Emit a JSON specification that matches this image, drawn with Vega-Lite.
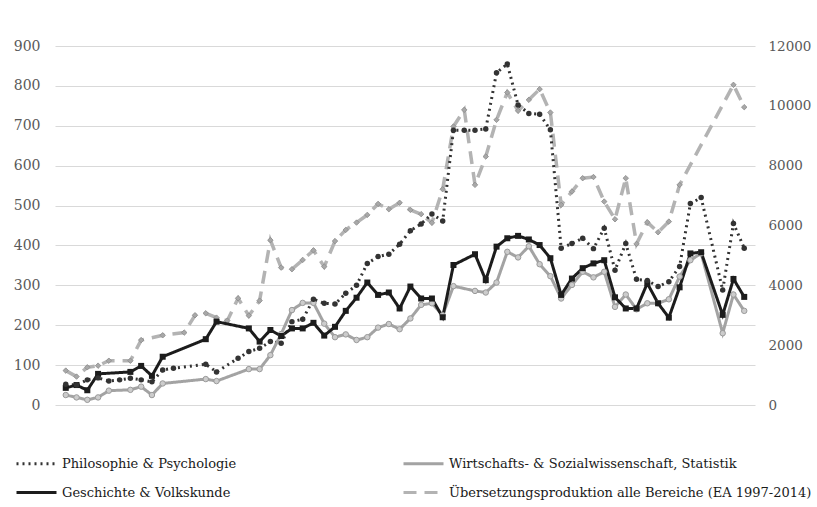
{
  "$schema": "https://vega.github.io/schema/vega-lite/v6.json",
  "width": 700,
  "height": 359,
  "autosize": {"type": "none"},
  "padding": {"left": 55, "top": 46, "right": 62, "bottom": 102},
  "background": "white",
  "config": {
    "view": {"stroke": null},
    "font": "DejaVu Serif",
    "axis": {"labelFont": "DejaVu Serif", "labelFontSize": 14, "labelColor": "#595959", "domain": false, "ticks": false, "title": null}
  },
  "data": {"values": [
    {"series":"P","year":1951,"value":52},{"series":"P","year":1952,"value":50},{"series":"P","year":1953,"value":63},{"series":"P","year":1954,"value":68},{"series":"P","year":1955,"value":60},{"series":"P","year":1956,"value":63},{"series":"P","year":1957,"value":67},{"series":"P","year":1958,"value":63},{"series":"P","year":1959,"value":58},{"series":"P","year":1960,"value":88},{"series":"P","year":1961,"value":92},{"series":"P","year":1964,"value":102},{"series":"P","year":1965,"value":83},{"series":"P","year":1967,"value":117},{"series":"P","year":1968,"value":134},{"series":"P","year":1969,"value":142},{"series":"P","year":1970,"value":159},{"series":"P","year":1971,"value":155},{"series":"P","year":1972,"value":209},{"series":"P","year":1973,"value":215},{"series":"P","year":1974,"value":265},{"series":"P","year":1975,"value":255},{"series":"P","year":1976,"value":253},{"series":"P","year":1977,"value":280},{"series":"P","year":1978,"value":300},{"series":"P","year":1979,"value":355},{"series":"P","year":1980,"value":372},{"series":"P","year":1981,"value":378},{"series":"P","year":1982,"value":403},{"series":"P","year":1983,"value":437},{"series":"P","year":1984,"value":454},{"series":"P","year":1985,"value":479},{"series":"P","year":1986,"value":461},{"series":"P","year":1987,"value":689},{"series":"P","year":1988,"value":689},{"series":"P","year":1989,"value":689},{"series":"P","year":1990,"value":692},{"series":"P","year":1991,"value":833},{"series":"P","year":1992,"value":855},{"series":"P","year":1993,"value":752},{"series":"P","year":1994,"value":731},{"series":"P","year":1995,"value":729},{"series":"P","year":1996,"value":690},{"series":"P","year":1997,"value":393},{"series":"P","year":1998,"value":405},{"series":"P","year":1999,"value":418},{"series":"P","year":2000,"value":392},{"series":"P","year":2001,"value":443},{"series":"P","year":2002,"value":338},{"series":"P","year":2003,"value":405},{"series":"P","year":2004,"value":315},{"series":"P","year":2005,"value":312},{"series":"P","year":2006,"value":297},{"series":"P","year":2007,"value":309},{"series":"P","year":2008,"value":347},{"series":"P","year":2009,"value":505},{"series":"P","year":2010,"value":520},{"series":"P","year":2012,"value":288},{"series":"P","year":2013,"value":455},{"series":"P","year":2014,"value":393},

    {"series":"W","year":1951,"value":25},{"series":"W","year":1952,"value":19},{"series":"W","year":1953,"value":13},{"series":"W","year":1954,"value":19},{"series":"W","year":1955,"value":36},{"series":"W","year":1957,"value":38},{"series":"W","year":1958,"value":46},{"series":"W","year":1959,"value":25},{"series":"W","year":1960,"value":54},{"series":"W","year":1964,"value":65},{"series":"W","year":1965,"value":60},{"series":"W","year":1968,"value":90},{"series":"W","year":1969,"value":90},{"series":"W","year":1970,"value":125},{"series":"W","year":1971,"value":178},{"series":"W","year":1972,"value":238},{"series":"W","year":1973,"value":256},{"series":"W","year":1974,"value":256},{"series":"W","year":1975,"value":204},{"series":"W","year":1976,"value":170},{"series":"W","year":1977,"value":177},{"series":"W","year":1978,"value":163},{"series":"W","year":1979,"value":170},{"series":"W","year":1980,"value":194},{"series":"W","year":1981,"value":203},{"series":"W","year":1982,"value":190},{"series":"W","year":1983,"value":217},{"series":"W","year":1984,"value":251},{"series":"W","year":1985,"value":255},{"series":"W","year":1986,"value":225},{"series":"W","year":1987,"value":298},{"series":"W","year":1989,"value":286},{"series":"W","year":1990,"value":282},{"series":"W","year":1991,"value":307},{"series":"W","year":1992,"value":384},{"series":"W","year":1993,"value":370},{"series":"W","year":1994,"value":398},{"series":"W","year":1995,"value":353},{"series":"W","year":1996,"value":323},{"series":"W","year":1997,"value":267},{"series":"W","year":1998,"value":301},{"series":"W","year":1999,"value":334},{"series":"W","year":2000,"value":320},{"series":"W","year":2001,"value":334},{"series":"W","year":2002,"value":246},{"series":"W","year":2003,"value":277},{"series":"W","year":2004,"value":240},{"series":"W","year":2005,"value":255},{"series":"W","year":2006,"value":255},{"series":"W","year":2007,"value":265},{"series":"W","year":2008,"value":322},{"series":"W","year":2009,"value":363},{"series":"W","year":2010,"value":380},{"series":"W","year":2012,"value":180},{"series":"W","year":2013,"value":277},{"series":"W","year":2014,"value":236},

    {"series":"G","year":1951,"value":43},{"series":"G","year":1952,"value":50},{"series":"G","year":1953,"value":37},{"series":"G","year":1954,"value":78},{"series":"G","year":1957,"value":83},{"series":"G","year":1958,"value":98},{"series":"G","year":1959,"value":73},{"series":"G","year":1960,"value":121},{"series":"G","year":1964,"value":165},{"series":"G","year":1965,"value":209},{"series":"G","year":1968,"value":192},{"series":"G","year":1969,"value":159},{"series":"G","year":1970,"value":188},{"series":"G","year":1971,"value":173},{"series":"G","year":1972,"value":192},{"series":"G","year":1973,"value":192},{"series":"G","year":1974,"value":206},{"series":"G","year":1975,"value":174},{"series":"G","year":1976,"value":196},{"series":"G","year":1977,"value":236},{"series":"G","year":1978,"value":269},{"series":"G","year":1979,"value":307},{"series":"G","year":1980,"value":276},{"series":"G","year":1981,"value":282},{"series":"G","year":1982,"value":242},{"series":"G","year":1983,"value":297},{"series":"G","year":1984,"value":267},{"series":"G","year":1985,"value":267},{"series":"G","year":1986,"value":220},{"series":"G","year":1987,"value":351},{"series":"G","year":1989,"value":378},{"series":"G","year":1990,"value":313},{"series":"G","year":1991,"value":397},{"series":"G","year":1992,"value":418},{"series":"G","year":1993,"value":424},{"series":"G","year":1994,"value":415},{"series":"G","year":1995,"value":401},{"series":"G","year":1996,"value":368},{"series":"G","year":1997,"value":276},{"series":"G","year":1998,"value":317},{"series":"G","year":1999,"value":343},{"series":"G","year":2000,"value":355},{"series":"G","year":2001,"value":363},{"series":"G","year":2002,"value":270},{"series":"G","year":2003,"value":242},{"series":"G","year":2004,"value":242},{"series":"G","year":2005,"value":305},{"series":"G","year":2006,"value":255},{"series":"G","year":2007,"value":219},{"series":"G","year":2008,"value":295},{"series":"G","year":2009,"value":380},{"series":"G","year":2010,"value":383},{"series":"G","year":2012,"value":226},{"series":"G","year":2013,"value":316},{"series":"G","year":2014,"value":271},

    {"series":"U","year":1951,"value":1150},{"series":"U","year":1952,"value":950},{"series":"U","year":1953,"value":1260},{"series":"U","year":1954,"value":1315},{"series":"U","year":1955,"value":1480},{"series":"U","year":1957,"value":1480},{"series":"U","year":1958,"value":2170},{"series":"U","year":1960,"value":2330},{"series":"U","year":1962,"value":2420},{"series":"U","year":1963,"value":3000},{"series":"U","year":1964,"value":3066},{"series":"U","year":1965,"value":2920},{"series":"U","year":1966,"value":2820},{"series":"U","year":1967,"value":3567},{"series":"U","year":1968,"value":2987},{"series":"U","year":1969,"value":3489},{"series":"U","year":1970,"value":5510},{"series":"U","year":1971,"value":4592},{"series":"U","year":1972,"value":4538},{"series":"U","year":1973,"value":4850},{"series":"U","year":1974,"value":5170},{"series":"U","year":1975,"value":4626},{"series":"U","year":1976,"value":5480},{"series":"U","year":1977,"value":5853},{"series":"U","year":1978,"value":6098},{"series":"U","year":1979,"value":6355},{"series":"U","year":1980,"value":6722},{"series":"U","year":1981,"value":6544},{"series":"U","year":1982,"value":6760},{"series":"U","year":1983,"value":6522},{"series":"U","year":1984,"value":6380},{"series":"U","year":1985,"value":6090},{"series":"U","year":1986,"value":7213},{"series":"U","year":1987,"value":9309},{"series":"U","year":1988,"value":9866},{"series":"U","year":1989,"value":7358},{"series":"U","year":1990,"value":8305},{"series":"U","year":1991,"value":9532},{"series":"U","year":1992,"value":10446},{"series":"U","year":1993,"value":9833},{"series":"U","year":1994,"value":10200},{"series":"U","year":1995,"value":10558},{"series":"U","year":1996,"value":9777},{"series":"U","year":1997,"value":6689},{"series":"U","year":1998,"value":7135},{"series":"U","year":1999,"value":7581},{"series":"U","year":2000,"value":7620},{"series":"U","year":2001,"value":6800},{"series":"U","year":2002,"value":6209},{"series":"U","year":2003,"value":7581},{"series":"U","year":2004,"value":5385},{"series":"U","year":2005,"value":6109},{"series":"U","year":2006,"value":5775},{"series":"U","year":2007,"value":6131},{"series":"U","year":2008,"value":7358},{"series":"U","year":2013,"value":10702},{"series":"U","year":2014,"value":9955}
  ]},
  "transform": [
    {"lookup": "series", "from": {"data": {"values": [
      {"code":"P","name":"Philosophie & Psychologie"},
      {"code":"W","name":"Wirtschafts- & Sozialwissenschaft, Statistik"},
      {"code":"G","name":"Geschichte & Volkskunde"},
      {"code":"U","name":"Übersetzungsproduktion alle Bereiche (EA 1997-2014)"}
    ]}, "key": "code", "fields": ["name"]}}
  ],
  "layer": [
    {
      "transform": [{"filter": "datum.series == 'U'"}],
      "encoding": {
        "x": {"field": "year", "type": "quantitative", "scale": {"domain": [1950, 2015], "nice": false, "zero": false}, "axis": null},
        "y": {"field": "value", "type": "quantitative", "scale": {"domain": [0, 12000], "nice": false}, "axis": {"orient": "right", "values": [0,2000,4000,6000,8000,10000,12000], "format": "d", "grid": false, "labelPadding": 13, "labelFontSize": 13.5}}
      },
      "layer": [
        {"mark": {"type": "line", "strokeWidth": 3.5, "strokeCap": "butt"},
         "encoding": {
           "color": {"field": "name", "type": "nominal", "scale": {"domain": ["Philosophie & Psychologie","Wirtschafts- & Sozialwissenschaft, Statistik","Geschichte & Volkskunde","Übersetzungsproduktion alle Bereiche (EA 1997-2014)"], "range": ["#333333","#a3a3a3","#1c1c1c","#b3b3b3"]}, "legend": {"title": null, "orient": "none", "legendX": -40, "legendY": 396, "columns": 2, "direction": "horizontal", "columnPadding": 160, "rowPadding": -19, "symbolType": "stroke", "symbolSize": 1600, "symbolStrokeWidth": 3, "labelFont": "DejaVu Serif", "labelFontSize": 13, "labelColor": "#1a1a1a", "labelOffset": 4, "labelLimit": 420}},
           "strokeDash": {"field": "name", "type": "nominal", "scale": {"domain": ["Philosophie & Psychologie","Wirtschafts- & Sozialwissenschaft, Statistik","Geschichte & Volkskunde","Übersetzungsproduktion alle Bereiche (EA 1997-2014)"], "range": [[2,4],[1,0],[1,0],[13,8]]}}
         }},
        {"mark": {"type": "point", "shape": "diamond", "filled": true, "size": 30, "color": "#a8a8a8", "stroke": "#8a8a8a", "strokeWidth": 0.8, "opacity": 1}}
      ]
    },
    {
      "transform": [{"filter": "datum.series != 'U'"}],
      "encoding": {
        "x": {"field": "year", "type": "quantitative", "scale": {"domain": [1950, 2015], "nice": false, "zero": false}, "axis": {"values": [1950,1955,1960,1965,1970,1975,1980,1985,1990,1995,2000,2005,2010,2015], "format": "d", "labelPadding": 12, "grid": false}},
        "y": {"field": "value", "type": "quantitative", "scale": {"domain": [0, 900], "nice": false}, "axis": {"orient": "left", "values": [0,100,200,300,400,500,600,700,800,900], "grid": true, "gridColor": "#d9d9d9", "gridWidth": 1, "labelPadding": 15}}
      },
      "layer": [
        {"mark": {"type": "line", "strokeWidth": 3, "strokeCap": "butt"},
         "encoding": {
           "color": {"field": "name", "type": "nominal"},
           "strokeDash": {"field": "name", "type": "nominal"}
         }},
        {"transform": [{"filter": "datum.series == 'W'"}],
         "mark": {"type": "point", "shape": "circle", "filled": true, "size": 30, "color": "#cccccc", "stroke": "#9a9a9a", "strokeWidth": 1, "opacity": 1}},
        {"transform": [{"filter": "datum.series == 'G'"}],
         "mark": {"type": "point", "shape": "square", "filled": true, "size": 36, "color": "#1c1c1c", "opacity": 1}},
        {"transform": [{"filter": "datum.series == 'P'"}],
         "mark": {"type": "point", "shape": "circle", "filled": true, "size": 30, "color": "#333333", "opacity": 1}}
      ]
    }
  ],
  "resolve": {"scale": {"y": "independent"}}
}
